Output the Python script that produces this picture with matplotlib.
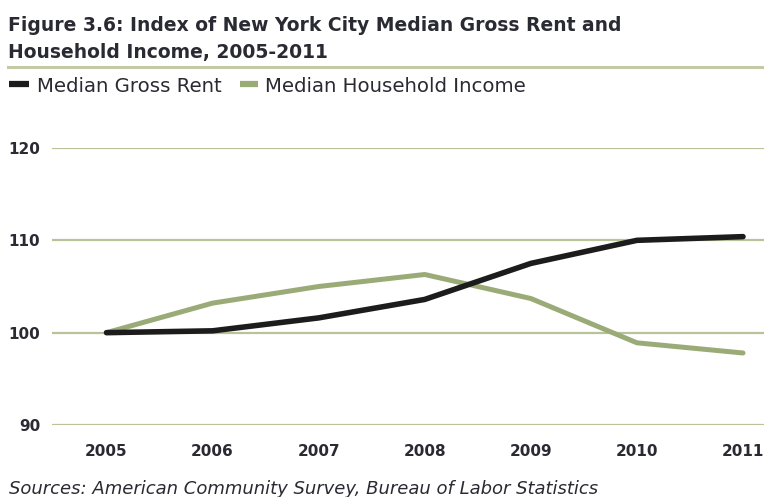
import matplotlib
matplotlib.use("Agg")
import matplotlib.pyplot as plt
from matplotlib.lines import Line2D

years = [2005, 2006, 2007, 2008, 2009, 2010, 2011]
gross_rent = [100.0, 100.2, 101.6, 103.6, 107.5, 110.0, 110.4]
household_income = [100.0, 103.2, 105.0, 106.3, 103.7, 98.9, 97.8]
y_ticks = [90, 100, 110, 120]

RENT_COLOR = "#1c1c1c"
INCOME_COLOR = "#9aab78"
GRID_COLOR = "#b8c39a"
TEXT_COLOR = "#2a2a33"

W, H = 764, 497
fig = plt.figure(figsize=(W / 100, H / 100), dpi=100)


def fy(px):
    # pixel row (from top) -> figure fraction
    return 1 - px / H


# title + rule underneath
fig.text(8 / W, fy(31), "Figure 3.6: Index of New York City Median Gross Rent and",
         fontsize=13.5, fontweight="bold", color=TEXT_COLOR, va="baseline")
fig.text(8 / W, fy(58), "Household Income, 2005-2011",
         fontsize=13.5, fontweight="bold", color=TEXT_COLOR, va="baseline")
fig.add_artist(Line2D([8 / W, 1], [fy(67)] * 2, color="#c2cba6", lw=2.2))

# legend
fig.add_artist(Line2D([9 / W, 29 / W], [fy(84)] * 2, color=RENT_COLOR, lw=4.5,
                      solid_capstyle="butt"))
fig.text(37 / W, fy(92), "Median Gross Rent", fontsize=14.2, color=TEXT_COLOR,
         va="baseline")
fig.add_artist(Line2D([240 / W, 258 / W], [fy(84)] * 2, color=INCOME_COLOR, lw=4.5,
                      solid_capstyle="butt"))
fig.text(265 / W, fy(92), "Median Household Income", fontsize=14.2, color=TEXT_COLOR,
         va="baseline")

ax_left, ax_top, ax_bottom = 52, 148, 425
ax = fig.add_axes([ax_left / W, fy(ax_bottom), 1 - ax_left / W, (ax_bottom - ax_top) / H])
ax.plot(years, household_income, color=INCOME_COLOR, lw=3.6, solid_capstyle="round",
        solid_joinstyle="round", zorder=3)
ax.plot(years, gross_rent, color=RENT_COLOR, lw=4.0, solid_capstyle="round",
        solid_joinstyle="round", zorder=4)

ax.set_xlim(2005 - 54.5 / 106.1, 2011 + 21 / 106.1)
ax.set_ylim(90, 120)
ax_w = W - ax_left
ax_h = ax_bottom - ax_top
for v in y_ticks:
    ax.axhline(v, color=GRID_COLOR, lw=1.6, zorder=1)
    ax.text(-12 / ax_w, v, str(v), transform=ax.get_yaxis_transform(), fontsize=11,
            fontweight="bold", color=TEXT_COLOR, va="center_baseline", ha="right")

# year labels under the plot
for yr in years:
    ax.text(yr, -31 / ax_h, str(yr), transform=ax.get_xaxis_transform(), fontsize=11,
            fontweight="bold", color=TEXT_COLOR, ha="center", va="baseline")

ax.set_xticks([])
ax.set_yticks([])
for s in ax.spines.values():
    s.set_visible(False)
ax.patch.set_alpha(0)

fig.text(9 / W, fy(494), "Sources: American Community Survey, Bureau of Labor Statistics",
         fontsize=13, style="italic", color=TEXT_COLOR, va="baseline")

fig.savefig("out.png", dpi=100)
